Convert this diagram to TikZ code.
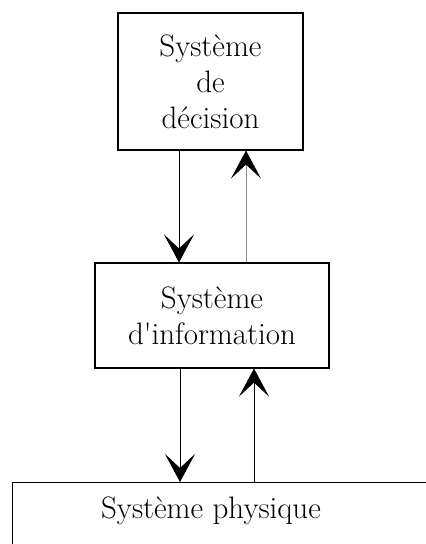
\documentclass[tikz,border=0pt]{standalone}
\usepackage{fontspec}
\usetikzlibrary{arrows.meta}
\begin{document}
\begin{tikzpicture}[x=1pt,y=-1pt,
  txt/.style={font=\fontsize{31}{36}\selectfont},
  box/.style={draw, line width=1.1pt, rectangle, inner sep=0pt, align=center, txt},
  arr/.style={line width=0.7pt, -{Stealth[length=28pt,width=30pt,inset=14pt]}},
  faint/.style={line width=0.7pt, draw=black!45, -{Stealth[length=28pt,width=30pt,inset=14pt,color=black]}}]
\useasboundingbox (0,0) rectangle (426,544);
\clip (0,0) rectangle (426,544);
\node[box, minimum width=185pt, minimum height=137pt] (dec) at (210.5,81.5) {Système\\de\\décision};
\node[box, minimum width=234pt, minimum height=105pt] (inf) at (212,315.5) {Système\\d\textquotesingle information};
\node[draw, line width=1.1pt, rectangle, minimum width=460pt, minimum height=120pt, inner sep=0pt,
  anchor=north west] (phy) at (12,482) {};
\node[txt, anchor=base] (phyt) at (211,518) {Système physique};
\coordinate (xa) at (179,0);
\coordinate (xb) at (246,0);
\coordinate (xc) at (180,0);
\coordinate (xd) at (254,0);
\draw[arr] (dec.south -| xa) -- (inf.north -| xa);
\draw[faint] (inf.north -| xb) -- (dec.south -| xb);
\draw[arr] (inf.south -| xc) -- (phy.north -| xc);
\draw[arr] (phy.north -| xd) -- (inf.south -| xd);
\end{tikzpicture}
\end{document}
